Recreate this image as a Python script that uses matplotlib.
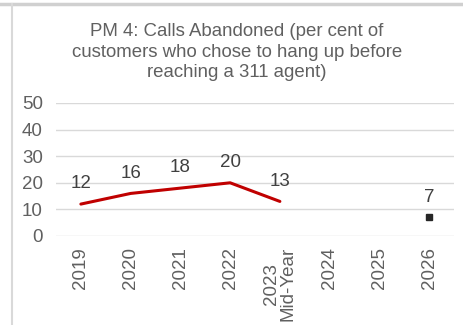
import numpy as np
import matplotlib
matplotlib.use('Agg')
import matplotlib.pyplot as plt
from matplotlib.lines import Line2D

years = ['2019', '2020', '2021', '2022', '2023\nMid-Year', '2024', '2025', '2026']
actual = [12, 16, 18, 20, 13, np.nan, np.nan, np.nan]
target = [np.nan, np.nan, np.nan, np.nan, np.nan, np.nan, np.nan, 7]
yticks = [0, 10, 20, 30, 40, 50]

grey = '#606060'
matplotlib.rc('font', family='Liberation Sans', size=13.5)

fig = plt.figure(figsize=(4.63, 3.25), dpi=100)
ax = fig.add_axes([56 / 463, 1 - 236 / 325, 398 / 463, 133 / 325])

ind = np.arange(len(years))
ax.plot(ind, actual, color='#C00000', linewidth=2.2, solid_capstyle='round')
ax.plot(ind, target, linestyle='none', marker='s', markersize=4.5, color='#262626')

for i in ind:
    for v in (actual[i], target[i]):
        if not np.isnan(v):
            ax.annotate(f'{v:g}', (i, v), xytext=(0, 14.5), textcoords='offset points',
                        ha='center', va='center', color='#404040')

ax.set_xlim(-0.5, len(years) - 0.5)
ax.set_ylim(0, 50)
ax.set_yticks(yticks)
ax.set_xticks(ind)
ax.set_xticklabels(years, rotation=90, ha='center', va='top', multialignment='center',
                   linespacing=0.95)
ax.tick_params(axis='both', length=0, colors=grey)
ax.tick_params(axis='y', pad=9.5)
ax.tick_params(axis='x', pad=8)
ax.grid(axis='y', color='#d9d9d9', linewidth=1)
ax.set_axisbelow(True)
for s in ax.spines.values():
    s.set_visible(False)

fig.text(237 / 463, 1 - 23 / 325,
         'PM 4: Calls Abandoned (per cent of\ncustomers who chose to hang up before\nreaching a 311 agent)',
         ha='center', va='top', color=grey, fontsize=13.4, linespacing=1.28)

# panel border lines
fig.add_artist(Line2D([0, 1], [1 - 3.5 / 325, 1 - 3.5 / 325], color='#d0d0d0', linewidth=2.5))
fig.add_artist(Line2D([11.5 / 463, 11.5 / 463], [0, 1 - 3.5 / 325], color='#d9d9d9', linewidth=1.5))

fig.savefig('out.png', dpi=100)
